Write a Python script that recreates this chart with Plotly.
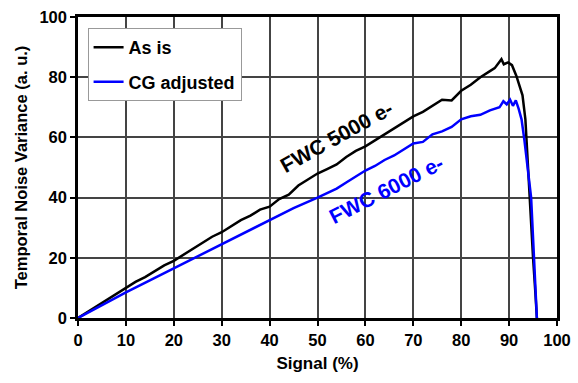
import plotly.graph_objects as go

sig_black = [0, 2, 4, 6, 8, 10, 12, 14, 16, 18, 20, 22, 24, 26, 28, 30, 32, 34, 36, 38, 40,
             42, 44, 46, 48, 50, 52, 54, 56, 58, 60, 62, 64, 66, 68, 70, 72, 74, 76, 78, 80,
             82, 84, 86, 87, 88.4, 88.9, 89.8, 90.6, 91.5, 92.2, 92.8, 93.4, 94.0, 94.5, 95.0, 95.5, 95.8]
var_black = [0, 2, 4, 6, 8, 10, 12, 13.6, 15.5, 17.5, 19, 21, 23, 24.8, 27, 28.5, 30.5, 32.5, 34, 36, 37,
             39.5, 41, 44, 46, 48, 49.5, 51, 53.5, 55.5, 57, 59, 61, 63, 65, 67, 68.5, 70.5, 72.5, 72.3, 75.5,
             77.5, 80, 82, 83, 86, 84.3, 84.9, 84, 80.5, 77, 74, 66, 48, 33, 20, 8, 0]

sig_blue = [0, 5, 10, 15, 20, 25, 30, 35, 40, 45, 50, 52, 54, 56, 58, 60, 62, 64, 66, 68, 70,
            72, 74, 76, 78, 80, 82, 84, 86, 88, 88.8, 89.5, 90.2, 90.8, 91.4, 92.0, 92.6, 93.2,
            94.0, 94.6, 95.2, 95.8]
var_blue = [0, 4.3, 8.5, 12.5, 16.5, 20.5, 24.5, 28.5, 32.5, 36.5, 40, 41.5, 43, 45, 47, 49, 50.5, 52.5, 54, 56, 58,
            58.5, 61, 62, 63.5, 66, 67, 67.5, 69, 70, 72, 71, 72.5, 70.5, 72.3, 69.5, 66, 59,
            49, 40, 20, 0]

x_ticks = [0, 10, 20, 30, 40, 50, 60, 70, 80, 90, 100]
y_ticks = [0, 20, 40, 60, 80, 100]

FONT = "Liberation Sans, Arial, sans-serif"
GRID = "#444444"

fig = go.Figure()
fig.add_trace(go.Scatter(x=sig_black, y=var_black, mode="lines", name="<b>As is</b>",
                         legendgroup="a", line=dict(color="black", width=2.5)))
fig.add_trace(go.Scatter(x=sig_blue, y=var_blue, mode="lines", name="<b>CG adjusted</b>",
                         legendgroup="b", line=dict(color="#0000ff", width=2.5)))

fig.add_annotation(x=54.0, y=60.3, text="<b>FWC 5000 e-</b>", showarrow=False, textangle=-29,
                   font=dict(family=FONT, size=21, color="black"))
fig.add_annotation(x=64.4, y=42.6, text="<b>FWC 6000 e-</b>", showarrow=False, textangle=-27,
                   font=dict(family=FONT, size=21, color="#0000ff"))

axis_common = dict(
    range=[0, 100], tickmode="array",
    showgrid=True, gridcolor=GRID, gridwidth=1.8,
    showline=True, linecolor="black", linewidth=2.5, mirror=True,
    ticks="outside", ticklen=5, tickcolor="black", tickwidth=1.8,
    zeroline=False,
    tickfont=dict(family=FONT, size=16.5, color="black"),
)

fig.update_layout(
    template="none",
    width=578, height=383,
    margin=dict(l=78, r=21, t=17, b=65),
    paper_bgcolor="white", plot_bgcolor="white",
    font=dict(family=FONT, size=16, color="black"),
    showlegend=True,
    legend=dict(x=0.02, y=0.963, xanchor="left", yanchor="top",
                bgcolor="white", bordercolor="#999999", borderwidth=1,
                font=dict(family=FONT, size=18, color="black"),
                itemwidth=30, tracegroupgap=8),
    xaxis=dict(axis_common, tickvals=x_ticks,
               ticktext=["<b>%d</b>" % v for v in x_ticks],
               title=dict(text="<b>Signal (%)</b>", font=dict(family=FONT, size=17), standoff=10)),
    yaxis=dict(axis_common, tickvals=y_ticks,
               ticktext=["<b>%d</b>" % v for v in y_ticks],
               title=dict(text="<b>Temporal Noise Variance (a. u.)</b>", font=dict(family=FONT, size=16.5), standoff=8)),
)

fig.write_html("out.html")
